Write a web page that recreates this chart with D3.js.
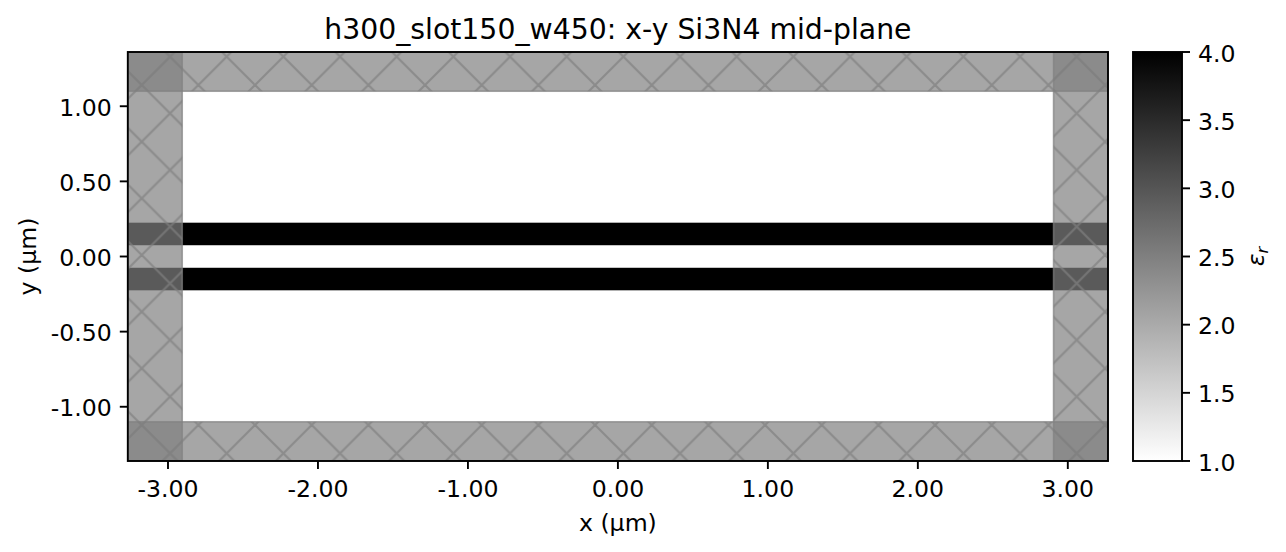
<!DOCTYPE html>
<html>
<head>
<meta charset="utf-8">
<script src="https://cdn.jsdelivr.net/npm/d3@7"></script>
<style>
  html, body { margin: 0; padding: 0; background: #fff; }
  text { font-family: "DejaVu Sans", sans-serif; fill: #000; }
</style>
</head>
<body>
<svg id="chart" width="1286" height="552"></svg>
<script>
// domain limits of the plot, in um
var xLimits = [-3.268, 3.268];
var yLimits = [-1.361, 1.361];

var xTicks = [-3, -2, -1, 0, 1, 2, 3];
var yTicks = [-1, -0.5, 0, 0.5, 1];
var cTicks = [1, 1.5, 2, 2.5, 3, 3.5, 4];

// Si3N4 rails: [y0, y1]
var rails = [[0.075, 0.225], [-0.225, -0.075]];
var railEps = 4;
var bgEps = 1;
var cRange = [1, 4];

// PML strips: [x0, x1, y0, y1]
var pmlStrips = [
  [-3.268, -2.905, -1.361, 1.361],
  [2.905, 3.268, -1.361, 1.361],
  [-3.268, 3.268, -1.361, -1.1],
  [-3.268, 3.268, 1.1, 1.361]
];

var svg = d3.select("#chart");
var defs = svg.append("defs");

var ax = {left: 127.8, right: 1108, top: 52, bottom: 461};
var cb = {left: 1133, right: 1182, top: 52, bottom: 461};

var tickFont = 23.6;
var lineW = 1.9;

var x = d3.scaleLinear().domain(xLimits).range([ax.left, ax.right]);
var y = d3.scaleLinear().domain(yLimits).range([ax.bottom, ax.top]);
var c = d3.scaleLinear().domain(cRange).range([cb.bottom, cb.top]);
var gray = d3.scaleLinear().domain(cRange).range(["#ffffff", "#000000"]);

defs.append("clipPath").attr("id", "axclip")
  .append("rect")
  .attr("x", ax.left).attr("y", ax.top)
  .attr("width", ax.right - ax.left).attr("height", ax.bottom - ax.top);

// hatch tile, crossings sit on the tile corners and centre
var tile = 56.67;
var hatch = defs.append("pattern")
  .attr("id", "hatch")
  .attr("patternUnits", "userSpaceOnUse")
  .attr("x", 141.7).attr("y", 85)
  .attr("width", tile).attr("height", tile);
[[0, 0, tile, tile], [0, tile, tile, 0]].forEach(function (d) {
  hatch.append("line")
    .attr("x1", d[0]).attr("y1", d[1]).attr("x2", d[2]).attr("y2", d[3])
    .attr("stroke", "#808080").attr("stroke-width", 2.2);
});

var plot = svg.append("g").attr("clip-path", "url(#axclip)");

// permittivity map
plot.append("rect")
  .attr("x", ax.left).attr("y", ax.top)
  .attr("width", ax.right - ax.left).attr("height", ax.bottom - ax.top)
  .attr("fill", gray(bgEps));

plot.selectAll(".rail").data(rails).enter().append("rect")
  .attr("class", "rail")
  .attr("x", x(xLimits[0]))
  .attr("width", x(xLimits[1]) - x(xLimits[0]))
  .attr("y", function (d) { return y(d[1]); })
  .attr("height", function (d) { return y(d[0]) - y(d[1]); })
  .attr("fill", gray(railEps));

// PML overlays: fill, hatch and edge each blend on their own
pmlStrips.forEach(function (d) {
  var r = {
    x: x(d[0]), y: y(d[3]),
    width: x(d[1]) - x(d[0]), height: y(d[2]) - y(d[3])
  };
  function box() {
    return plot.append("rect").attr("x", r.x).attr("y", r.y)
      .attr("width", r.width).attr("height", r.height);
  }
  box().attr("fill", "#808080").attr("opacity", 0.7);
  box().attr("fill", "url(#hatch)").attr("opacity", 0.7);
  box().attr("fill", "none").attr("stroke", "#808080")
    .attr("stroke-width", 1.6).attr("opacity", 0.7);
});

// axes
var fmt = function (v) { return d3.format(".2f")(v).replace("−", "-"); };
function styleAxis(g) {
  g.selectAll("text").attr("font-size", tickFont).attr("font-family", "DejaVu Sans").attr("fill", "#000");
  g.selectAll("line").attr("stroke", "#000").attr("stroke-width", lineW);
  g.select(".domain").remove();
}

var xAxisG = svg.append("g")
  .attr("transform", "translate(0," + ax.bottom + ")")
  .call(d3.axisBottom(x).tickValues(xTicks).tickFormat(fmt).tickSize(8).tickPadding(8).offset(0))
  .call(styleAxis);
xAxisG.selectAll("text").attr("dy", "0.71em").attr("y", 19);

var yAxisG = svg.append("g")
  .attr("transform", "translate(" + ax.left + ",0)")
  .call(d3.axisLeft(y).tickValues(yTicks).tickFormat(fmt).tickSize(8).tickPadding(8).offset(0))
  .call(styleAxis);
yAxisG.selectAll("text").attr("y", 2);

svg.append("rect")
  .attr("x", ax.left).attr("y", ax.top)
  .attr("width", ax.right - ax.left).attr("height", ax.bottom - ax.top)
  .attr("fill", "none").attr("stroke", "#000").attr("stroke-width", lineW);

svg.append("text")
  .attr("x", (ax.left + ax.right) / 2).attr("y", 38.8)
  .attr("text-anchor", "middle").attr("font-size", 28.3)
  .text("h300_slot150_w450: x-y Si3N4 mid-plane");

svg.append("text")
  .attr("x", (ax.left + ax.right) / 2).attr("y", 531)
  .attr("text-anchor", "middle").attr("font-size", tickFont)
  .text("x (µm)");

svg.append("text")
  .attr("transform", "translate(36," + ((ax.top + ax.bottom) / 2) + ") rotate(-90)")
  .attr("text-anchor", "middle").attr("font-size", tickFont)
  .text("y (µm)");

// colorbar
var grad = defs.append("linearGradient")
  .attr("id", "cbar")
  .attr("x1", 0).attr("y1", 1).attr("x2", 0).attr("y2", 0);
grad.append("stop").attr("offset", 0).attr("stop-color", gray(cRange[0]));
grad.append("stop").attr("offset", 1).attr("stop-color", gray(cRange[1]));

svg.append("rect")
  .attr("x", cb.left).attr("y", cb.top)
  .attr("width", cb.right - cb.left).attr("height", cb.bottom - cb.top)
  .attr("fill", "url(#cbar)")
  .attr("stroke", "#000").attr("stroke-width", lineW);

var cAxisG = svg.append("g")
  .attr("transform", "translate(" + cb.right + ",0)")
  .call(d3.axisRight(c).tickValues(cTicks).tickFormat(d3.format(".1f")).tickSize(8).tickPadding(8).offset(0))
  .call(styleAxis);
cAxisG.selectAll("text").attr("y", 2);

var cbLabel = svg.append("text")
  .attr("transform", "translate(1264," + ((cb.top + cb.bottom) / 2) + ") rotate(-90)")
  .attr("text-anchor", "middle").attr("font-size", tickFont)
  .attr("font-style", "italic");
cbLabel.append("tspan").text("ε");
cbLabel.append("tspan").attr("font-size", 16.5).attr("dy", 4).text("r");
</script>
</body>
</html>
